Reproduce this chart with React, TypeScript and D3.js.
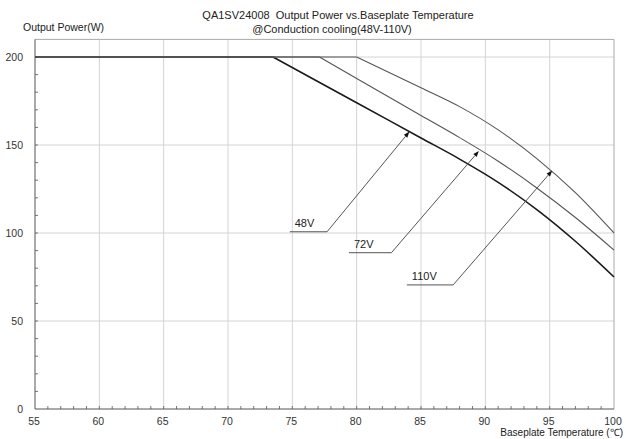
import React from "react";
import * as d3 from "d3";

const W = 626;
const H = 439;

const xTicks = [55, 60, 65, 70, 75, 80, 85, 90, 95, 100];
const yTicks = [0, 50, 100, 150, 200];

const seriesNames = ["48V", "72V", "110V"];
const temps48 = [55, 73.5, 80, 85, 88, 91, 94, 97, 100];
const power48 = [200, 200, 174, 154, 142, 128.8, 113.3, 95.3, 75];
const temps72 = [55, 77.1, 80, 85, 88, 91, 94, 97, 100];
const power72 = [200, 200, 187.8, 166.8, 154.2, 140.8, 125.6, 108.8, 90.3];
const temps110 = [55, 80, 85, 88, 91, 94, 97, 100];
const power110 = [200, 200, 182.5, 171.8, 158.6, 142.3, 122.9, 100];

// annotation leader lines (data units)
const labelLineY = [100.7, 88.8, 70.5];
const labelLineX0 = [74.8, 79.4, 83.9];
const labelLineX1 = [77.7, 82.7, 87.5];
const tipX = [84.1, 89.5, 95.2];
const tipY = [157.6, 146.6, 135.5];

const FONT = "'Liberation Sans', Arial, sans-serif";

export default function App() {
  const x = d3.scaleLinear().domain([55, 100]).range([35, 614]);
  const y = d3.scaleLinear().domain([0, 210]).range([409, 39.4]);

  const series = [
    { t: temps48, p: power48, stroke: "#1a1a1a", w: 1.6 },
    { t: temps72, p: power72, stroke: "#555", w: 1.1 },
    { t: temps110, p: power110, stroke: "#555", w: 1.1 },
  ];

  const curve = d3
    .line<[number, number]>()
    .x((d) => x(d[0]))
    .y((d) => y(d[1]))
    .curve(d3.curveMonotoneX);
  const straight = d3
    .line<[number, number]>()
    .x((d) => x(d[0]))
    .y((d) => y(d[1]));

  const minorX = d3.range(56, 100, 1);
  const minorY = d3.range(10, 210, 10);

  const [x0, x1] = x.range();
  const yTop = y(210);
  const yBot = y(0);

  return (
    <svg
      width={W}
      height={H}
      style={{ position: "absolute", left: 0, top: 0, background: "#fff" }}
      fontFamily={FONT}
    >
      <rect x={0} y={0} width={W} height={H} fill="#fff" />
      {/* grid */}
      {xTicks.slice(1, -1).map((t) => (
        <line key={"gx" + t} x1={x(t)} x2={x(t)} y1={yTop} y2={yBot} stroke="#d4d4d4" strokeWidth={1} />
      ))}
      {yTicks.slice(1).map((t) => (
        <line key={"gy" + t} x1={x0} x2={x1} y1={y(t)} y2={y(t)} stroke="#d4d4d4" strokeWidth={1} />
      ))}
      {/* frame */}
      <line x1={x0} x2={x1} y1={yTop} y2={yTop} stroke="#aaa" />
      <line x1={x1} x2={x1} y1={yTop} y2={yBot} stroke="#aaa" />
      {/* minor ticks */}
      {minorX.map((t) => (
        <line key={"mx" + t} x1={x(t)} x2={x(t)} y1={yBot} y2={yBot - 3} stroke="#777" />
      ))}
      {minorY.map((t) => (
        <line key={"my" + t} x1={x0} x2={x0 + 3} y1={y(t)} y2={y(t)} stroke="#777" />
      ))}
      {/* axes */}
      <line x1={x0} x2={x0} y1={yTop} y2={yBot} stroke="#555" />
      <line x1={x0} x2={x1} y1={yBot} y2={yBot} stroke="#555" />

      {/* series */}
      {series.map((s, i) => {
        const pts: [number, number][] = s.t.map((t, j) => [t, s.p[j]]);
        const flat = pts.slice(0, 2);
        const bend = pts.slice(1);
        return (
          <g key={seriesNames[i]} fill="none" stroke={s.stroke} strokeWidth={s.w}>
            <path d={straight(flat) || ""} />
            <path d={curve(bend) || ""} />
          </g>
        );
      })}

      {/* annotations */}
      {seriesNames.map((name, i) => {
        const lx0 = x(labelLineX0[i]);
        const lx1 = x(labelLineX1[i]);
        const ly = y(labelLineY[i]);
        const tx = x(tipX[i]);
        const ty = y(tipY[i]);
        const ang = Math.atan2(ty - ly, tx - lx1);
        const L = 6;
        const Wd = 2.2;
        const bx = tx - L * Math.cos(ang);
        const by = ty - L * Math.sin(ang);
        const px = -Math.sin(ang) * Wd;
        const py = Math.cos(ang) * Wd;
        return (
          <g key={"ann" + name}>
            <polyline
              points={`${lx0},${ly} ${lx1},${ly} ${bx},${by}`}
              fill="none"
              stroke="#555"
              strokeWidth={1}
            />
            <polygon points={`${tx},${ty} ${bx + px},${by + py} ${bx - px},${by - py}`} fill="#111" />
            <text x={lx0 + 5} y={ly - 5} fontSize={11} fill="#222">
              {name}
            </text>
          </g>
        );
      })}

      {/* tick labels */}
      {yTicks.map((t) => (
        <text key={"yl" + t} x={x0 - 12} y={y(t) + 4} fontSize={10.5} fill="#333" textAnchor="end">
          {t}
        </text>
      ))}
      {xTicks.map((t) => (
        <text key={"xl" + t} x={x(t) - 1} y={yBot + 16} fontSize={10.5} fill="#333" textAnchor="middle">
          {t}
        </text>
      ))}

      {/* titles */}
      <text x={338} y={19} fontSize={11} fill="#222" textAnchor="middle" style={{ whiteSpace: "pre" }}>
        {"QA1SV24008  Output Power vs.Baseplate Temperature"}
      </text>
      <text x={332} y={33} fontSize={11} fill="#222" textAnchor="middle">
        @Conduction cooling(48V-110V)
      </text>
      <text x={23} y={31} fontSize={10.5} fill="#222">
        Output Power(W)
      </text>
      <text x={623} y={436} fontSize={10} fill="#222" textAnchor="end">
        Baseplate Temperature (℃)
      </text>
    </svg>
  );
}
